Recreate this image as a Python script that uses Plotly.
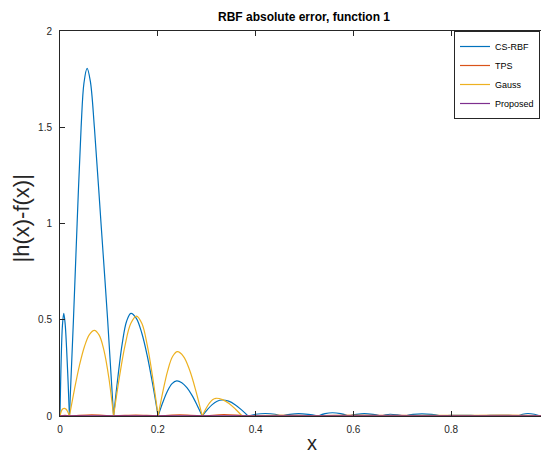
import plotly.graph_objects as go

# ---- data ; None separates arches ----
cs_x = [0, 0.0025, 0.005, 0.0077, 0.0105, 0.0135, 0.0165, 0.0193, None,
        0.0193, 0.0275, 0.035, 0.0432, 0.049, 0.0554, 0.062, 0.0703, 0.0839, 0.0974, 0.1096, None,
        0.1096, 0.1185, 0.1273, 0.1362, 0.145, 0.1561, 0.1672, 0.1784, 0.1895, 0.2006, None,
        0.2006, 0.2101, 0.2196, 0.2292, 0.2387, 0.2491, 0.2595, 0.27, 0.2804, 0.2908, None,
        0.2908, 0.301, 0.3112, 0.3214, 0.3316, 0.3448, 0.358, 0.3713, 0.3845, None,
        0.3845, 0.40, 0.42, 0.44, 0.453, None,
        0.453, 0.47, 0.488, 0.508, 0.528, None,
        0.528, 0.542, 0.557, 0.574, 0.59, None,
        0.59, 0.606, 0.622, 0.64, 0.657, None,
        0.657, 0.666, 0.675, 0.69, 0.705, None,
        0.705, 0.722, 0.74, 0.76, 0.78, None,
        0.78, 0.80, 0.82, 0.84, 0.86, None,
        0.86, 0.88, 0.90, 0.918, 0.936, None,
        0.936, 0.946, 0.957, 0.97, 0.983, None,
        0.983, 0.988, 0.993, 0.997, 1.0]
cs_y = [0, 0.30, 0.47, 0.533, 0.48, 0.35, 0.18, 0, None,
        0, 0.5, 1.0, 1.5, 1.73, 1.806, 1.74, 1.5, 1.0, 0.5, 0, None,
        0, 0.204, 0.377, 0.492, 0.533, 0.507, 0.431, 0.313, 0.165, 0, None,
        0, 0.07, 0.129, 0.168, 0.182, 0.173, 0.147, 0.107, 0.056, 0, None,
        0, 0.032, 0.059, 0.077, 0.083, 0.077, 0.059, 0.032, 0, None,
        0, 0.009, 0.013, 0.009, 0, None,
        0, 0.008, 0.012, 0.008, 0, None,
        0, 0.012, 0.017, 0.012, 0, None,
        0, 0.008, 0.012, 0.008, 0, None,
        0, 0.006, 0.009, 0.006, 0, None,
        0, 0.008, 0.011, 0.008, 0, None,
        0, 0.003, 0.004, 0.003, 0, None,
        0, 0.003, 0.004, 0.003, 0, None,
        0, 0.009, 0.013, 0.009, 0, None,
        0, 0.006, 0.009, 0.006, 0.002]

tps_x = [0, 0.01, 0.02, 0.065, 0.11, 0.155, 0.2, 0.245, 0.29, 0.335, 0.385,
         0.45, 0.52, 0.6, 0.7, 0.8, 0.9, 1.0]
tps_y = [0, 0.003, 0.001, 0.006, 0.001, 0.005, 0.001, 0.006, 0.001, 0.007, 0.001,
         0.004, 0.002, 0.004, 0.003, 0.002, 0.003, 0.002]

gauss_x = [0, 0.003, 0.006, 0.009, 0.012, 0.015, 0.0193, None,
           0.0193, 0.0295, 0.0397, 0.0499, 0.0601, 0.0703, 0.0801, 0.09, 0.0998, 0.1096, None,
           0.1096, 0.1213, 0.133, 0.1447, 0.1564, 0.1675, 0.1785, 0.1896, 0.2006, None,
           0.2006, 0.2105, 0.2203, 0.2302, 0.24, 0.2527, 0.2654, 0.2781, 0.2908, None,
           0.2908, 0.2978, 0.3049, 0.3119, 0.319, 0.3323, 0.3457, 0.359, 0.3723, None,
           0.3723, 0.39, 0.45, 0.5, 0.6, 0.7, 0.8, 0.9, 1.0]
gauss_y = [0, 0.028, 0.038, 0.04, 0.036, 0.026, 0, None,
           0, 0.1375, 0.262, 0.36, 0.423, 0.445, 0.42, 0.34, 0.2, 0, None,
           0, 0.199, 0.367, 0.48, 0.519, 0.48, 0.367, 0.199, 0, None,
           0, 0.128, 0.236, 0.309, 0.334, 0.309, 0.236, 0.128, 0, None,
           0, 0.035, 0.065, 0.085, 0.092, 0.085, 0.065, 0.035, 0, None,
           0, 0.002, 0.003, 0.002, 0.003, 0.002, 0.004, 0.003, 0.002]

prop_x = [0, 0.25, 0.5, 0.75, 1.0]
prop_y = [0.001, 0.001, 0.0012, 0.001, 0.001]

x_ticks = [0, 0.2, 0.4, 0.6, 0.8, 1]
x_labels = ["0", "0.2", "0.4", "0.6", "0.8", "1"]
y_ticks = [0, 0.5, 1, 1.5, 2]
y_labels = ["0", "0.5", "1", "1.5", "2"]

FONT = "Liberation Sans, Arial, Helvetica, sans-serif"
AX = "#262626"

fig = go.Figure()
series = [("CS-RBF", cs_x, cs_y, "#0072BD"),
          ("TPS", tps_x, tps_y, "#D95319"),
          ("Gauss", gauss_x, gauss_y, "#EDB120"),
          ("Proposed", prop_x, prop_y, "#7E2F8E")]
for name, xs, ys, col in series:
    fig.add_trace(go.Scatter(x=xs, y=ys, name=name, mode="lines",
                             line=dict(color=col, width=1.2, shape="spline", smoothing=1),
                             connectgaps=False))

axis_common = dict(showline=True, linecolor=AX, linewidth=1, mirror="ticks",
                   ticks="inside", ticklen=5, tickcolor=AX, tickwidth=1,
                   showgrid=False, zeroline=False,
                   tickfont=dict(family=FONT, size=10, color=AX))

fig.update_xaxes(range=[0, 1], tickvals=x_ticks, ticktext=x_labels,
                 ticklabelstandoff=4, **axis_common)
fig.update_yaxes(range=[0, 2], tickvals=y_ticks, ticktext=y_labels,
                 ticklabelstandoff=5, **axis_common)

# page body has an 8px margin: figure is 541x442 so the whole page is 549x450
fig.update_layout(
    width=541, height=442,
    margin=dict(l=52, r=0, t=23, b=34),
    plot_bgcolor="white", paper_bgcolor="white",
    font=dict(family=FONT, color=AX),
    showlegend=True,
    legend=dict(x=0.9816, xanchor="right", y=1, yanchor="top",
                bgcolor="white", bordercolor=AX, borderwidth=1,
                font=dict(family=FONT, size=9, color="black"),
                tracegroupgap=0, itemwidth=30),
    annotations=[
        dict(text="<b>RBF absolute error, function 1</b>", xref="paper", yref="paper",
             x=0.499, y=1, yshift=23, xanchor="center", yanchor="top",
             showarrow=False, font=dict(family=FONT, size=12, color="black")),
        dict(text="|h(x)-f(x)|", xref="paper", yref="paper",
             x=0, y=0.5, xshift=-39, yshift=5, xanchor="center", yanchor="middle",
             textangle=-90,
             showarrow=False, font=dict(family=FONT, size=22, color=AX)),
        dict(text="x", xref="paper", yref="paper",
             x=0.515, y=0, yshift=-27, xanchor="center", yanchor="middle",
             showarrow=False, font=dict(family=FONT, size=20, color=AX)),
    ],
)

fig.write_html("out.html")
